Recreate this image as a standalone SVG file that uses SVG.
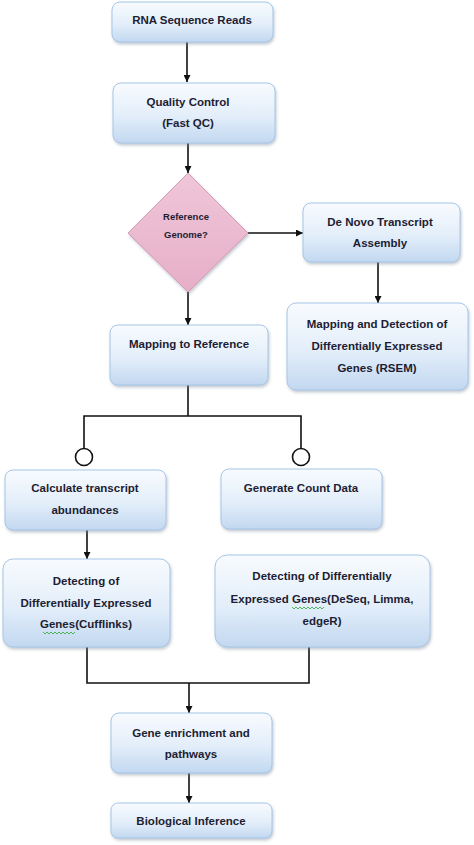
<svg xmlns="http://www.w3.org/2000/svg" width="474" height="845" viewBox="0 0 474 845">
<defs>
<linearGradient id="gBox" x1="0" y1="0" x2="0" y2="1">
<stop offset="0" stop-color="#f8fbfe"/>
<stop offset="0.55" stop-color="#e3eefa"/>
<stop offset="1" stop-color="#c2d8f0"/>
</linearGradient>
<linearGradient id="gDia" x1="0" y1="0" x2="0" y2="1">
<stop offset="0" stop-color="#f0c6d9"/>
<stop offset="1" stop-color="#e6afc7"/>
</linearGradient>
<filter id="sh" x="-10%" y="-10%" width="125%" height="130%">
<feDropShadow dx="1" dy="2" stdDeviation="1.5" flood-color="#7a8a9a" flood-opacity="0.45"/>
</filter>
<marker id="arr" viewBox="0 0 10 10" refX="10" refY="5" markerWidth="7" markerHeight="7" markerUnits="userSpaceOnUse" orient="auto">
<path d="M0,0 L10,5 L0,10 Z" fill="#111"/>
</marker>
<style>
.box{fill:url(#gBox);stroke:#a6c6e8;stroke-width:1;filter:url(#sh);}
.dia{fill:url(#gDia);stroke:#d79ab7;stroke-width:1;filter:url(#sh);}
.t{font-family:"Liberation Sans",Arial,sans-serif;font-weight:bold;font-size:11.5px;fill:#1d1d33;text-anchor:middle;}
.ts{font-size:9.5px;}
.ln{fill:none;stroke:#111;stroke-width:1.6;}
.ar{fill:none;stroke:#111;stroke-width:1.6;marker-end:url(#arr);}
.cir{fill:#fff;stroke:#111;stroke-width:1.6;}
.sq{fill:none;stroke:#3fae49;stroke-width:0.9;}
</style>
</defs>

<g id="connectors">
<line class="ar" x1="187" y1="42" x2="187" y2="82"/>
<line class="ar" x1="188" y1="143" x2="188" y2="173"/>
<line class="ar" x1="248" y1="233" x2="303" y2="233"/>
<line class="ar" x1="378" y1="262" x2="378" y2="303"/>
<line class="ar" x1="188" y1="292" x2="188" y2="325"/>
<polyline class="ln" points="188,385 188,416"/>
<polyline class="ln" points="84,449 84,416 301,416 301,449"/>
<circle class="cir" cx="84" cy="457" r="8.5"/>
<circle class="cir" cx="301" cy="457" r="8.5"/>
<line class="ar" x1="87" y1="530" x2="87" y2="559"/>
<polyline class="ln" points="87,647 87,683 309,683 309,647"/>
<line class="ar" x1="189" y1="683" x2="189" y2="713"/>
<line class="ar" x1="189" y1="773" x2="189" y2="803"/>
</g>

<g id="n-rna">
<rect class="box" x="112" y="2" width="161" height="40" rx="8"/>
<text class="t" x="192" y="24">RNA Sequence Reads</text>
</g>

<g id="n-qc">
<rect class="box" x="113" y="83" width="162" height="60" rx="8"/>
<text class="t" x="188" y="106">Quality Control</text>
<text class="t" x="188" y="127">(Fast QC)</text>
</g>

<g id="n-ref">
<polygon class="dia" points="188,173 248,233 188,292 128,233"/>
<text class="t ts" x="186" y="220">Reference</text>
<text class="t ts" x="186" y="238">Genome?</text>
</g>

<g id="n-denovo">
<rect class="box" x="303" y="203" width="157" height="59" rx="8"/>
<text class="t" x="380" y="226">De Novo Transcript</text>
<text class="t" x="380" y="247">Assembly</text>
</g>

<g id="n-rsem">
<rect class="box" x="287" y="303" width="181" height="87" rx="9"/>
<text class="t" x="377" y="328">Mapping and Detection of</text>
<text class="t" x="377" y="350">Differentially Expressed</text>
<text class="t" x="377" y="372">Genes (RSEM)</text>
</g>

<g id="n-map">
<rect class="box" x="110" y="325" width="158" height="60" rx="8"/>
<text class="t" x="189" y="348">Mapping to Reference</text>
</g>

<g id="n-calc">
<rect class="box" x="5" y="470" width="161" height="60" rx="8"/>
<text class="t" x="85" y="492">Calculate transcript</text>
<text class="t" x="85" y="514">abundances</text>
</g>

<g id="n-count">
<rect class="box" x="221" y="469" width="161" height="60" rx="8"/>
<text class="t" x="301" y="492">Generate Count Data</text>
</g>

<g id="n-cuff">
<rect class="box" x="3" y="559" width="167" height="88" rx="10"/>
<text class="t" x="86" y="585">Detecting of</text>
<text class="t" x="86" y="607">Differentially Expressed</text>
<text class="t" x="86" y="628">Genes(Cufflinks)</text>
<polyline class="sq" points="43,632 45,634 47,632 49,634 51,632 53,634 55,632 57,634 59,632 61,634 63,632 65,634 67,632 69,634 71,632 73,634 75,632"/>
</g>

<g id="n-deseq">
<rect class="box" x="215" y="555" width="215" height="92" rx="12"/>
<text class="t" x="322" y="580">Detecting of Differentially</text>
<text class="t" x="322" y="603">Expressed Genes(DeSeq, Limma,</text>
<text class="t" x="322" y="625">edgeR)</text>
<polyline class="sq" points="292,607 294,609 296,607 298,609 300,607 302,609 304,607 306,609 308,607 310,609 312,607 314,609 316,607 318,609 320,607 322,609 324,607"/>
</g>

<g id="n-enrich">
<rect class="box" x="111" y="713" width="161" height="60" rx="8"/>
<text class="t" x="191" y="737">Gene enrichment  and</text>
<text class="t" x="191" y="758">pathways</text>
</g>

<g id="n-bio">
<rect class="box" x="111" y="803" width="161" height="35" rx="7"/>
<text class="t" x="191" y="825">Biological Inference</text>
</g>
</svg>
